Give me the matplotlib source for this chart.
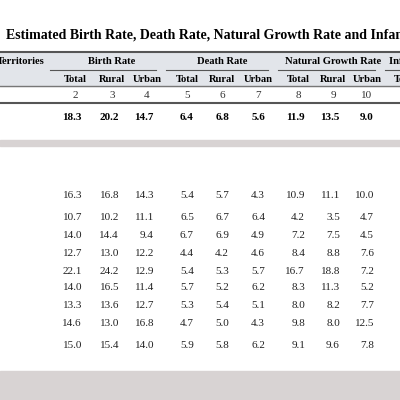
import matplotlib
matplotlib.use("Agg")
import matplotlib.pyplot as plt

title = "Estimated Birth Rate, Death Rate, Natural Growth Rate and Infant Mortality Rate"
groups = ["Birth Rate", "Death Rate", "Natural Growth Rate", "Infant Mortality Rate"]
subs = ["Total", "Rural", "Urban"]
col_nums = ["2", "3", "4", "5", "6", "7", "8", "9", "10", "11"]
india = [18.3, 20.2, 14.7, 6.4, 6.8, 5.6, 11.9, 13.5, 9.0]
rows = [
    [16.3, 16.8, 14.3, 5.4, 5.7, 4.3, 10.9, 11.1, 10.0],
    [10.7, 10.2, 11.1, 6.5, 6.7, 6.4, 4.2, 3.5, 4.7],
    [14.0, 14.4, 9.4, 6.7, 6.9, 4.9, 7.2, 7.5, 4.5],
    [12.7, 13.0, 12.2, 4.4, 4.2, 4.6, 8.4, 8.8, 7.6],
    [22.1, 24.2, 12.9, 5.4, 5.3, 5.7, 16.7, 18.8, 7.2],
    [14.0, 16.5, 11.4, 5.7, 5.2, 6.2, 8.3, 11.3, 5.2],
    [13.3, 13.6, 12.7, 5.3, 5.4, 5.1, 8.0, 8.2, 7.7],
    [14.6, 13.0, 16.8, 4.7, 5.0, 4.3, 9.8, 8.0, 12.5],
    [15.0, 15.4, 14.0, 5.9, 5.8, 6.2, 9.1, 9.6, 7.8],
]
row_y = [196, 218, 236, 253, 271, 288, 306, 323, 346]

fig = plt.figure(figsize=(4, 4), dpi=100)
ax = fig.add_axes([0, 0, 1, 1])
ax.set_xlim(0, 400); ax.set_ylim(400, 0); ax.axis("off")
F = "Liberation Serif"
xs = [75, 112, 147, 187, 222, 258, 298, 333, 367, 405]
HS = 7.6

ax.text(6, 35, title, fontsize=10, fontweight="bold", family=F, va="center", ha="left")
ax.axhspan(52, 86, color="#e2e5ea", zorder=0)
ax.plot([0, 400], [52, 52], color="#555", lw=1.5)
ax.plot([0, 400], [86, 86], color="#777", lw=1)
ax.plot([0, 400], [103, 103], color="#555", lw=1.5)
ax.text(-3, 62, "Territories", fontsize=HS, fontweight="bold", family=F, va="center")
spans = [(50, 156), (166, 268), (278, 375), (385, 440)]
for k, (g, (a, b)) in enumerate(zip(groups, spans)):
    if k < 3:
        ax.text(xs[k * 3 + 1], 62, g, fontsize=HS, fontweight="bold", family=F, va="center", ha="center")
    else:
        ax.text(389, 62, g, fontsize=HS, fontweight="bold", family=F, va="center", ha="left")
    ax.plot([a, b], [70, 70], color="#555", lw=0.8)
for i, x in enumerate(xs):
    ax.text(x, 79, subs[i % 3], fontsize=HS, fontweight="bold", family=F, va="center", ha="center")
    ax.text(x, 96, col_nums[i], fontsize=8, family=F, va="center", ha="center", color="#333")
for x, v in zip(xs, india):
    ax.text(x + 7, 118, f"{v:.1f}", fontsize=8, fontweight="bold", family=F, va="center", ha="right")
ax.axhspan(140, 146, color="#d8d3d3", zorder=0)
for y, r in zip(row_y, rows):
    for x, v in zip(xs, r):
        ax.text(x + 7, y, f"{v:.1f}", fontsize=8, family=F, va="center", ha="right", color="#222")
ax.axhspan(371, 400, color="#d8d3d3", zorder=0)
fig.savefig("out.png", dpi=100)
